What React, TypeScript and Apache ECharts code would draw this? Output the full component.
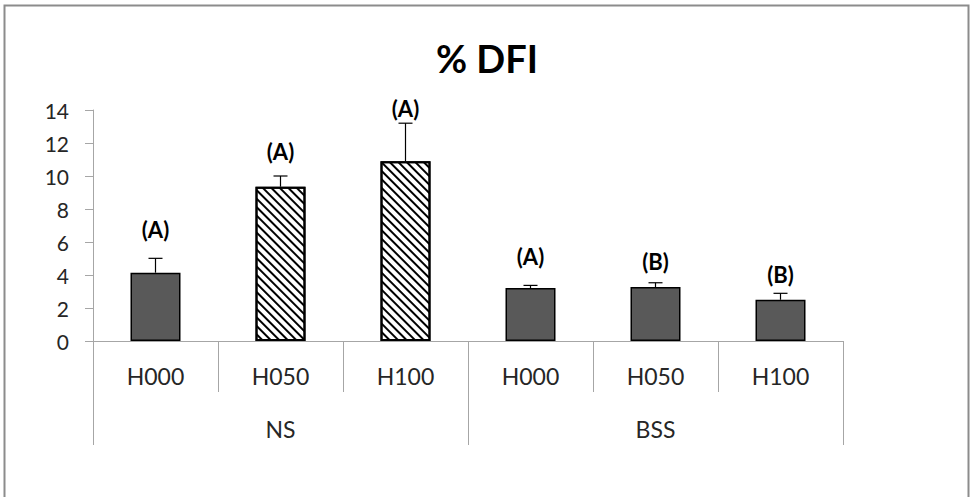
import React, { useEffect, useRef } from "react";
import * as echarts from "echarts";

const categories = ["H000", "H050", "H100", "H000", "H050", "H100"];
const groups = ["NS", "BSS"];
const means = [4.14, 9.35, 10.9, 3.21, 3.27, 2.5];
const errors = [0.87, 0.65, 2.3, 0.16, 0.26, 0.39];
const letters = ["(A)", "(A)", "(A)", "(A)", "(B)", "(B)"];
const letterY = [6.73, 11.47, 14.12, 5.11, 4.8, 4.06];
const hatched = [false, true, true, false, false, false];
const yTicks = { min: 0, max: 14, interval: 2 };

const AXIS_GRAY = "#a6a6a6";
const FONT = "Lato, 'Open Sans', sans-serif";

export default function App() {
  const ref = useRef<HTMLDivElement>(null);
  useEffect(() => {
    document.body.style.margin = "0";
    if (!ref.current) return;
    const chart = echarts.init(ref.current, undefined, { renderer: "svg" });
    const barData = means.map((v, i) => ({
      value: v,
      itemStyle: hatched[i]
        ? {
            color: "#ffffff",
            borderColor: "#000000",
            borderWidth: 2,
            decal: {
              symbol: "rect",
              symbolSize: 1,
              dashArrayX: [1, 0],
              dashArrayY: [2, 4],
              rotation: Math.PI / 4,
              color: "#000000",
            },
          }
        : { color: "#595959", borderColor: "#000000", borderWidth: 1.5 },
    }));
    chart.setOption({
      animation: false,
      graphic: [
        {
          type: "rect",
          shape: { x: 4.5, y: 5.5, width: 964, height: 500 },
          style: { fill: "none", stroke: "#8c8c8c", lineWidth: 2 },
          silent: true,
        },
        {
          type: "text",
          x: 487,
          y: 58,
          style: {
            text: "% DFI",
            font: `bold 38px ${FONT}`,
            fill: "#000",
            textAlign: "center",
            textVerticalAlign: "middle",
          },
        },
      ],
      grid: { left: 93, right: 129, top: 110, bottom: 156, containLabel: false },
      xAxis: [
        {
          type: "category",
          data: categories,
          position: "bottom",
          axisLine: { show: true, lineStyle: { color: AXIS_GRAY, width: 1 } },
          axisTick: { show: true, interval: 0, length: 51, lineStyle: { color: AXIS_GRAY } },
          axisLabel: { interval: 0, margin: 23, fontFamily: FONT, fontSize: 23, color: "#262626" },
          splitLine: { show: false },
        },
        {
          type: "category",
          data: groups,
          position: "bottom",
          axisLine: { show: false },
          axisTick: { show: true, interval: 0, length: 104, lineStyle: { color: AXIS_GRAY } },
          axisLabel: { interval: 0, margin: 76, fontFamily: FONT, fontSize: 23, color: "#262626" },
          splitLine: { show: false },
        },
      ],
      yAxis: {
        type: "value",
        min: yTicks.min,
        max: yTicks.max,
        interval: yTicks.interval,
        axisLine: { show: true, lineStyle: { color: AXIS_GRAY, width: 1 } },
        axisTick: { show: true, length: 8, lineStyle: { color: AXIS_GRAY } },
        axisLabel: { margin: 24, fontFamily: FONT, fontSize: 21, color: "#262626" },
        splitLine: { show: false },
      },
      series: [
        {
          type: "bar",
          xAxisIndex: 0,
          barWidth: 50,
          data: barData,
          z: 2,
        },
        {
          type: "custom",
          xAxisIndex: 0,
          z: 3,
          data: means.map((m, i) => [i, m, errors[i]]),
          renderItem: (params: any, api: any) => {
            const x = api.value(0);
            const m = api.value(1);
            const e = api.value(2);
            const p0 = api.coord([x, m]);
            const p1 = api.coord([x, m + e]);
            const half = 7;
            return {
              type: "group",
              children: [
                {
                  type: "line",
                  shape: { x1: p0[0], y1: p0[1], x2: p1[0], y2: p1[1] },
                  style: { stroke: "#000", lineWidth: 1.2 },
                },
                {
                  type: "line",
                  shape: { x1: p1[0] - half, y1: p1[1], x2: p1[0] + half, y2: p1[1] },
                  style: { stroke: "#000", lineWidth: 1.2 },
                },
              ],
            };
          },
        },
        {
          type: "custom",
          xAxisIndex: 0,
          z: 4,
          data: letterY.map((y, i) => [i, y]),
          renderItem: (params: any, api: any) => {
            const p = api.coord([api.value(0), api.value(1)]);
            return {
              type: "text",
              x: p[0],
              y: p[1],
              style: {
                text: letters[params.dataIndex],
                font: `bold 22px ${FONT}`,
                fill: "#000",
                textAlign: "center",
                textVerticalAlign: "middle",
              },
            };
          },
        },
      ],
    });
    return () => chart.dispose();
  }, []);
  return <div ref={ref} style={{ width: 972, height: 497 }} />;
}
